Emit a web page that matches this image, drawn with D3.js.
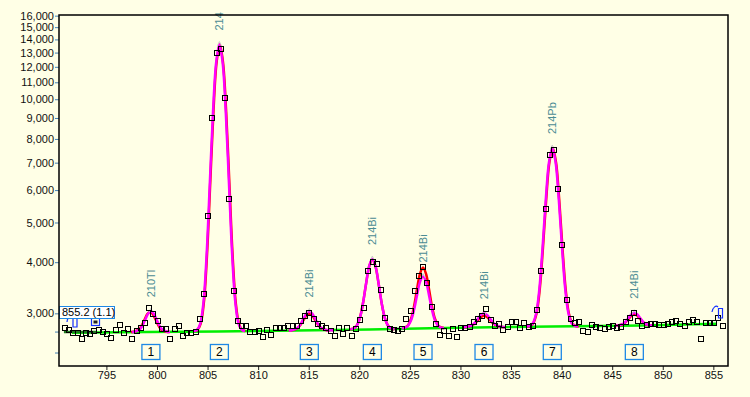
<!DOCTYPE html>
<meta charset="utf-8">
<script src="https://d3js.org/d3.v7.min.js"></script>
<style>
  body { margin: 0; background: #ffffe6; }
  text { font-family: "Liberation Sans", Arial, sans-serif; }
</style>
<div id="chart"></div>
<script>
// channel calibration of the spectrum (keV)
var energyStart = 790.90, energyStep = 0.41675;

// counts per channel
var counts = [
  2770, 2738, 2693, 2690, 2603, 2680, 2677, 2723, 2738, 2700,
  2677, 2618, 2738, 2817, 2693, 2754, 2590, 2723, 2770, 2849,
  3084, 2990, 2880, 2754, 2754, 2590, 2754, 2786, 2648, 2680,
  2693, 2708, 2900, 3340, 5200, 9000, 12980, 13300, 10080, 5700,
  3400, 2870, 2786, 2801, 2700, 2700, 2715, 2630, 2730, 2650,
  2770, 2760, 2760, 2786, 2786, 2801, 2881, 2963, 3010, 2900,
  2830, 2800, 2760, 2720, 2648, 2766, 2677, 2770, 2648, 2750,
  2890, 3085, 3800, 4010, 3960, 3420, 2930, 2740, 2738, 2723,
  2754, 2910, 3040, 3410, 3700, 3900, 3560, 3110, 2830, 2650,
  2720, 2648, 2750, 2625, 2766, 2760, 2775, 2850, 2900, 2960,
  3080, 2890, 2790, 2830, 2735, 2785, 2850, 2865, 2770, 2845,
  2785, 2790, 3050, 3800, 5400, 7300, 7520, 6050, 4400, 3225,
  2900, 2840, 2860, 2710, 2700, 2815, 2785, 2770, 2740, 2785,
  2800, 2770, 2785, 2850, 2930, 3000, 2880, 2800, 2815, 2828,
  2828, 2812, 2817, 2828, 2865, 2881, 2828, 2801, 2865, 2893,
  2853, 2597, 2838, 2844, 2838, 2930, 2801
];

// peaks
var peakNumbers = [1, 2, 3, 4, 5, 6, 7, 8];
var peakNames = ["210Tl", "214Bi", "214Bi", "214Bi", "214Bi", "214Bi", "214Pb", "214Bi"];
var peakEnergies = [799.40, 806.17, 815.06, 821.29, 826.30, 832.33, 839.08, 847.19];

// fitted peak shape (magenta), [keV, counts]
var peakFit1 = [[797.51,2701],[797.78,2704],[798.32,2745],[798.59,2809],[798.86,2903],[799.13,2996],[799.40,3035],[799.67,2996],[799.94,2903],[800.21,2809],[800.48,2745],[801.02,2704],[801.29,2701]];
var peakFit2 = [[803.65,2715],[803.965,2736],[804.28,2833],[804.595,3190],[804.91,4185],[805.225,6247],[805.54,9316],[805.855,12321],[806.17,13600],[806.485,12321],[806.80,9316],[807.115,6247],[807.43,4185],[807.745,3190],[808.06,2833],[808.375,2736],[808.69,2715]];
var peakFit3 = [[813.03,2726],[813.32,2728],[813.90,2766],[814.19,2824],[814.48,2910],[814.77,2994],[815.06,3030],[815.35,2994],[815.64,2910],[815.93,2824],[816.22,2766],[816.80,2728],[817.09,2726],[817.5,2725]];
var peakFit4 = [[819.12,2743],[819.43,2755],[819.74,2798],[820.05,2920],[820.36,3172],[820.67,3547],[820.98,3914],[821.29,4070],[821.60,3914],[821.91,3547],[822.22,3172],[822.53,2920],[822.84,2798],[823.15,2755],[823.46,2743]];
var peakFit5 = [[824.235,2760],[824.53,2768],[824.825,2799],[825.12,2884],[825.415,3061],[825.71,3323],[826.005,3581],[826.30,3690],[826.595,3581],[826.89,3323],[827.185,3061],[827.48,2884],[827.775,2799],[828.07,2768],[828.365,2760]];
var peakFit6 = [[830.23,2775],[830.53,2778],[831.13,2805],[831.43,2848],[831.73,2911],[832.03,2974],[832.33,3000],[832.63,2974],[832.93,2911],[833.23,2848],[833.53,2805],[834.13,2778],[834.43,2775]];
var peakFit7 = [[836.52,2787],[836.84,2796],[837.16,2838],[837.48,2996],[837.80,3437],[838.12,4348],[838.44,5705],[838.76,7034],[839.08,7600],[839.40,7034],[839.72,5705],[840.04,4348],[840.36,3437],[840.68,2996],[841.00,2838],[841.32,2796],[841.64,2787]];
var peakFit8 = [[845.265,2800],[845.54,2802],[846.09,2828],[846.365,2868],[846.64,2927],[846.915,2985],[847.19,3010],[847.465,2985],[847.74,2927],[848.015,2868],[848.29,2828],[848.84,2802],[849.115,2800]];

// fitted sum (red), [keV, counts]
var sumFit1 = [[797.43,2701],[797.70,2704],[798.24,2744],[798.51,2806],[798.78,2897],[799.05,2987],[799.32,3025],[799.59,2987],[799.86,2897],[800.13,2806],[800.40,2744],[800.94,2704],[801.21,2701]];
var sumFit2 = [[803.69,2715],[804.005,2736],[804.32,2833],[804.635,3190],[804.95,4185],[805.265,6247],[805.58,9316],[805.895,12321],[806.21,13600],[806.525,12321],[806.84,9316],[807.155,6247],[807.47,4185],[807.785,3190],[808.10,2833],[808.415,2736],[808.73,2715]];
var sumFit3 = [[813.03,2726],[813.32,2728],[813.90,2762],[814.19,2813],[814.48,2889],[814.77,2963],[815.06,2995],[815.35,2963],[815.64,2889],[815.93,2813],[816.22,2762],[816.80,2728],[817.09,2726]];
var sumFit4 = [[819.12,2743],[819.43,2755],[819.74,2798],[820.05,2919],[820.36,3169],[820.67,3541],[820.98,3905],[821.29,4060],[821.60,3905],[821.91,3541],[822.22,3169],[822.53,2919],[822.84,2798],[823.15,2755],[823.46,2743]];
var sumFit5 = [[824.235,2761],[824.53,2771],[824.825,2807],[825.12,2910],[825.415,3122],[825.71,3439],[826.005,3748],[826.30,3880],[826.595,3748],[826.89,3439],[827.185,3122],[827.48,2910],[827.775,2807],[828.07,2771],[828.365,2761]];
var sumFit6 = [[830.23,2775],[830.53,2777],[831.13,2800],[831.43,2835],[831.73,2887],[832.03,2938],[832.33,2960],[832.63,2938],[832.93,2887],[833.23,2835],[833.53,2800],[834.13,2777],[834.43,2775]];
var sumFit7 = [[836.56,2787],[836.88,2796],[837.20,2838],[837.52,2996],[837.84,3437],[838.16,4348],[838.48,5705],[838.80,7034],[839.12,7600],[839.44,7034],[839.76,5705],[840.08,4348],[840.40,3437],[840.72,2996],[841.04,2838],[841.36,2796],[841.68,2787]];
var sumFit8 = [[845.265,2800],[845.54,2802],[846.09,2825],[846.365,2860],[846.64,2912],[846.915,2963],[847.19,2985],[847.465,2963],[847.74,2912],[848.015,2860],[848.29,2825],[848.84,2802],[849.115,2800]];

// continuum (green) and left background region (dark green)
var baseline = [[791.6,2688],[799,2700],[806,2710],[812,2720],[821,2740],[827,2760],[833,2775],[839,2785],[848,2800],[855.3,2828]];
var leftRegion = [[790.8,2700],[794.0,2702]];

// axis ticks
var xTickValues = [795, 800, 805, 810, 815, 820, 825, 830, 835, 840, 845, 850, 855];
var yTickValues = [3000, 4000, 5000, 6000, 7000, 8000, 9000, 10000, 11000, 12000, 13000, 14000, 15000, 16000];
var yMinorTicks = [2400, 2700];

var cursorText = "855.2 (1.1)";

var peakFits = [peakFit1, peakFit2, peakFit3, peakFit4, peakFit5, peakFit6, peakFit7, peakFit8];
var sumFits = [sumFit1, sumFit2, sumFit3, sumFit4, sumFit5, sumFit6, sumFit7, sumFit8];

var width = 750, height = 397;
var plot = {left: 59, top: 15, right: 728, bottom: 366};

var svg = d3.select("#chart")
  .append("svg")
    .attr("width", width)
    .attr("height", height)
    .style("display", "block");

svg.append("rect")
  .attr("width", width).attr("height", height)
  .attr("fill", "#ffffe6");

var x = d3.scaleLinear()
    .domain([790.314, 856.45])
    .range([plot.left, plot.right]);

var y = d3.scaleLog()
    .domain([2231, 16060])
    .range([plot.bottom, plot.top]);

svg.append("clipPath").attr("id", "plotClip")
  .append("rect")
    .attr("x", plot.left).attr("y", plot.top)
    .attr("width", plot.right - plot.left).attr("height", plot.bottom - plot.top);

svg.append("clipPath").attr("id", "labelClip")
  .append("rect")
    .attr("x", plot.left).attr("y", 12)
    .attr("width", plot.right - plot.left).attr("height", plot.bottom - 12);

// x axis
var xAxis = svg.append("g")
    .attr("transform", "translate(0," + plot.bottom + ")")
    .call(d3.axisBottom(x).tickValues(xTickValues).tickSize(4).tickPadding(1).tickFormat(d3.format("d")));
xAxis.select(".domain").remove();
xAxis.selectAll("line").attr("stroke", "#222");
xAxis.selectAll("text").style("font-size", "11px").attr("fill", "#111");

// y axis
var yAxis = svg.append("g")
    .attr("transform", "translate(" + plot.left + ",0)")
    .call(d3.axisLeft(y).tickValues(yTickValues).tickSize(4).tickPadding(1).tickFormat(d3.format(",")));
yAxis.select(".domain").remove();
yAxis.selectAll("line").attr("stroke", "#4682b4");
yAxis.selectAll("text").style("font-size", "11px").attr("fill", "#111");

svg.append("g")
  .selectAll("line")
  .data(yMinorTicks)
  .enter()
  .append("line")
    .attr("x1", plot.left - 4).attr("x2", plot.left)
    .attr("y1", function(d) { return y(d); })
    .attr("y2", function(d) { return y(d); })
    .attr("stroke", "#4682b4");

var g = svg.append("g").attr("clip-path", "url(#plotClip)");

var line = d3.line()
    .x(function(d) { return x(d[0]); })
    .y(function(d) { return y(d[1]); });

var fitLine = d3.line()
    .x(function(d) { return x(d[0]); })
    .y(function(d) { return y(d[1]); })
    .curve(d3.curveCatmullRom.alpha(0.5));

// continuum
g.append("path")
  .attr("d", line(baseline))
  .attr("fill", "none")
  .attr("stroke", "#00ee00")
  .attr("stroke-width", 2.5);

g.append("path")
  .attr("d", line(leftRegion))
  .attr("fill", "none")
  .attr("stroke", "#1e7a1e")
  .attr("stroke-width", 2.5);

// fits
g.selectAll(".sumFit")
  .data(sumFits)
  .enter()
  .append("path")
    .attr("class", "sumFit")
    .attr("d", fitLine)
    .attr("fill", "none")
    .attr("stroke", "#ff0000")
    .attr("stroke-width", 2.5);

g.selectAll(".peakFit")
  .data(peakFits)
  .enter()
  .append("path")
    .attr("class", "peakFit")
    .attr("d", fitLine)
    .attr("fill", "none")
    .attr("stroke", "#ff00ff")
    .attr("stroke-width", 2.5);

// apex markers
g.selectAll(".apex")
  .data(peakFits)
  .enter()
  .append("path")
    .attr("class", "apex")
    .attr("d", function(d) {
      var top = d3.max(d, function(p) { return p[1]; });
      var px = x(peakEnergies[peakFits.indexOf(d)]), py = y(top);
      return "M" + (px - 2) + "," + (py + 1) + "L" + px + "," + (py - 3) + "L" + (px + 2) + "," + (py + 1);
    })
    .attr("fill", "none")
    .attr("stroke", "#c8c8c8")
    .attr("stroke-width", 1);

// data points
g.selectAll(".pt")
  .data(counts)
  .enter()
  .append("rect")
    .attr("class", "pt")
    .attr("x", function(d, i) { return Math.round(x(energyStart + i * energyStep)) - 2.5; })
    .attr("y", function(d) { return Math.round(y(d)) - 2.5; })
    .attr("width", 5)
    .attr("height", 5)
    .attr("fill", "none")
    .attr("stroke", "#000")
    .attr("stroke-width", 1);

// peak labels
svg.append("g")
  .attr("clip-path", "url(#labelClip)")
  .selectAll("text")
  .data(peakNames)
  .enter()
  .append("text")
    .attr("transform", function(d, i) {
      var top = d3.max(peakFits[i], function(p) { return p[1]; });
      return "translate(" + (x(peakEnergies[i]) + 4) + "," + (y(top) - 14) + ") rotate(-90)";
    })
    .style("font-size", "11px")
    .attr("fill", "#4b8c94")
    .text(function(d) { return d; });

// peak number boxes
var boxes = svg.append("g")
  .selectAll("g")
  .data(peakNumbers)
  .enter()
  .append("g")
    .attr("transform", function(d, i) { return "translate(" + x(peakEnergies[i]) + ",352)"; });

boxes.append("rect")
  .attr("x", -9).attr("y", -7.5)
  .attr("width", 18).attr("height", 15)
  .attr("fill", "none")
  .attr("stroke", "#1e88e5")
  .attr("stroke-width", 1.3);

boxes.append("text")
  .attr("text-anchor", "middle")
  .attr("dy", "0.36em")
  .style("font-size", "12px")
  .attr("fill", "#000")
  .text(function(d) { return d; });

// cursor markers
var blue = "#1530ff";
svg.append("path")
  .attr("d", "M67,322 C67,318 70,316 72,318 M73,318 L73,327 L77,327 L77,318 Z")
  .attr("fill", "none").attr("stroke", blue).attr("stroke-width", 1.2);
svg.append("rect")
  .attr("x", 91.5).attr("y", 317.5).attr("width", 8).attr("height", 8)
  .attr("fill", "none").attr("stroke", blue).attr("stroke-width", 1.2);
svg.append("rect")
  .attr("x", 93.5).attr("y", 320.5).attr("width", 4).attr("height", 3)
  .attr("fill", "#222");
svg.append("path")
  .attr("d", "M712,312 C713,307 716,305 718,307 M718.5,308.5 L718.5,318 L722.5,318 L722.5,308.5 Z")
  .attr("fill", "none").attr("stroke", blue).attr("stroke-width", 1.2);

// cursor readout
svg.append("rect")
  .attr("x", 59.5).attr("y", 306.5).attr("width", 55).attr("height", 12)
  .attr("fill", "#ffffff").attr("stroke", "#1e88e5").attr("stroke-width", 1);
svg.append("text")
  .attr("x", 62).attr("y", 316)
  .style("font-size", "11px")
  .attr("fill", "#000")
  .text(cursorText);

// frame
svg.append("rect")
  .attr("x", plot.left).attr("y", plot.top)
  .attr("width", plot.right - plot.left).attr("height", plot.bottom - plot.top)
  .attr("fill", "none")
  .attr("stroke", "#000")
  .attr("stroke-width", 1.5);
</script>
